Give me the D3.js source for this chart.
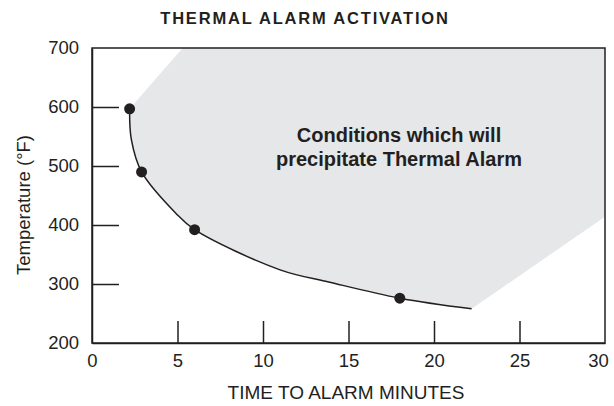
<!DOCTYPE html>
<html>
<head>
<meta charset="utf-8">
<script src="https://cdn.jsdelivr.net/npm/d3@7"></script>
<style>
  body { margin: 0; background: #fff; }
  text { font-family: "Liberation Sans", Arial, Helvetica, sans-serif; fill: #231f20; }
</style>
</head>
<body>
<div id="chart"></div>
<script>
//data
var xTicks = [0, 5, 10, 15, 20, 25, 30];
var yTicks = [200, 300, 400, 500, 600, 700];
//measured test points (dots)
var dotTime = [2.2, 2.9, 6.0, 18.0];
var dotTemp = [597, 490, 392, 276];
//points along the drawn curve
var curveTime = [2.2, 2.3, 2.9, 4.9, 6.0, 11.0, 13.9, 18.0, 22.2];
var curveTemp = [597, 545, 490, 420, 392, 324, 303, 276, 258];
//corners of the shaded region (beyond the curve end)
var shadeTime = [30, 30, 5.3];
var shadeTemp = [414, 700, 700];

var W = 614, H = 406;
var margin = {top: 48, right: 9, bottom: 63, left: 92},
    width = W - margin.left - margin.right,
    height = H - margin.top - margin.bottom;

var svg = d3.select("#chart").append("svg")
    .attr("width", W)
    .attr("height", H);

var g = svg.append("g")
    .attr("transform", "translate(" + margin.left + "," + margin.top + ")");

var x = d3.scaleLinear().domain([0, 30]).range([0, width]);
var y = d3.scaleLinear().domain([200, 700]).range([height, 0]);

//clip for shading
g.append("clipPath").attr("id", "clip")
  .append("rect").attr("width", width).attr("height", height);

var curvePts = curveTime.map((t, i) => [t, curveTemp[i]]);
var line = d3.line()
    .x(d => x(d[0]))
    .y(d => y(d[1]))
    .curve(d3.curveCatmullRom.alpha(0.5));

//shaded region = curve + corners
var shadePath = line(curvePts) +
    shadeTime.map((t, i) => "L" + x(t) + "," + y(shadeTemp[i])).join("") + "Z";

g.append("path")
    .attr("d", shadePath)
    .attr("fill", "#e6e7e8")
    .attr("clip-path", "url(#clip)");

g.append("path")
    .datum(curvePts)
    .attr("d", line)
    .attr("fill", "none")
    .attr("stroke", "#231f20")
    .attr("stroke-width", 1.5);

g.selectAll(".dot")
    .data(dotTime.map((t, i) => [t, dotTemp[i]]))
  .enter().append("circle")
    .attr("class", "dot")
    .attr("cx", d => x(d[0]))
    .attr("cy", d => y(d[1]))
    .attr("r", 5.5)
    .attr("fill", "#231f20");

//axes with inward ticks
var xAxis = d3.axisBottom(x).tickValues(xTicks).tickSizeInner(-22).tickSizeOuter(0).tickPadding(11);
var yAxis = d3.axisLeft(y).tickValues(yTicks).tickSizeInner(-27).tickSizeOuter(0).tickPadding(13);

var gx = g.append("g")
    .attr("transform", "translate(0," + height + ")")
    .call(xAxis);
var gy = g.append("g").call(yAxis);

[gx, gy].forEach(a => {
    a.selectAll("path, line").attr("stroke", "#231f20").attr("stroke-width", 1.5);
    a.selectAll("text").attr("font-size", 18.5).attr("fill", "#231f20");
});
//hide tick lines that sit on the frame
gx.selectAll(".tick line").filter(d => d === 0 || d === 30).remove();
gy.selectAll(".tick line").filter(d => d === 200 || d === 700).remove();
//last label pulled in so it fits
gx.selectAll(".tick text").filter(d => d === 30).attr("dx", -7);

//frame
g.append("rect")
    .attr("width", width)
    .attr("height", height)
    .attr("fill", "none")
    .attr("stroke", "#231f20")
    .attr("stroke-width", 1.5);

//texts
svg.append("text")
    .attr("x", 305).attr("y", 24)
    .attr("text-anchor", "middle")
    .attr("font-size", 16.5).attr("font-weight", "bold")
    .attr("letter-spacing", 1.8)
    .text("THERMAL ALARM ACTIVATION");

svg.append("text")
    .attr("x", 346).attr("y", 399)
    .attr("text-anchor", "middle")
    .attr("font-size", 19)
    .text("TIME TO ALARM MINUTES");

svg.append("text")
    .attr("transform", "translate(30,205) rotate(-90)")
    .attr("text-anchor", "middle")
    .attr("font-size", 18.5)
    .text("Temperature (°F)");

var note = svg.append("text")
    .attr("text-anchor", "middle")
    .attr("font-size", 20).attr("font-weight", "bold");
note.append("tspan").attr("x", 399).attr("y", 142).text("Conditions which will");
note.append("tspan").attr("x", 399).attr("y", 166).text("precipitate Thermal Alarm");
</script>
</body>
</html>
